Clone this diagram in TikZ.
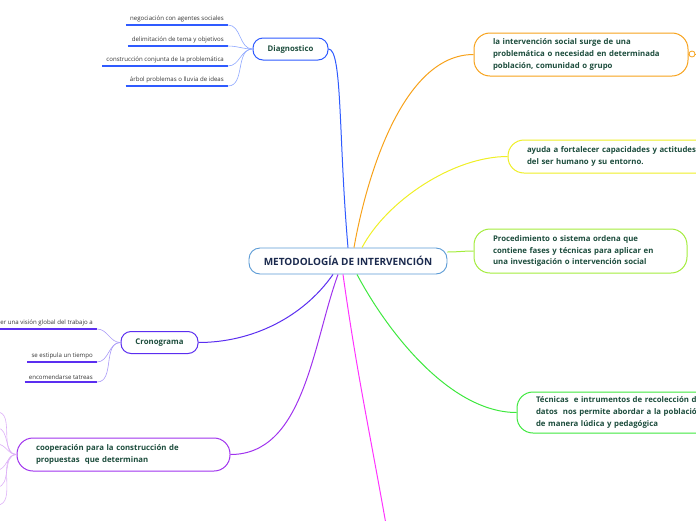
\documentclass[tikz,border=0pt]{standalone}
\usepackage{fontspec}
\setmainfont{Open Sans}

\definecolor{txtgreen}{HTML}{1D4D3D}
\definecolor{txtnavy}{HTML}{1B2A4E}
\definecolor{leafgray}{HTML}{333333}
\definecolor{cblue}{HTML}{2F5BFF}
\definecolor{cbluelt}{HTML}{8FA8FF}
\definecolor{cframe}{HTML}{5B9BD5}
\definecolor{corange}{HTML}{F7A21B}
\definecolor{cyellow}{HTML}{EFEF26}
\definecolor{clime}{HTML}{A3EC3C}
\definecolor{cgreen}{HTML}{3EE83E}
\definecolor{cmagenta}{HTML}{FF33FF}
\definecolor{cpurple}{HTML}{A033EE}
\definecolor{cpurplelt}{HTML}{DDB0F7}
\definecolor{cviolet}{HTML}{5B2EF0}
\definecolor{cvioletlt}{HTML}{A99AF7}

\tikzstyle{central} = [draw = cframe, fill = white, line width = 0.9pt, rounded corners = 11pt, minimum width = 198pt, minimum height = 26pt, text = txtnavy, font = \bfseries\fontsize{10}{12}\selectfont]
\tikzstyle{topic} = [fill = white, line width = 1pt, rounded corners = 10pt, minimum height = 22pt, text = txtgreen, font = \bfseries\fontsize{7.8}{10}\selectfont]
\tikzstyle{idea} = [fill = white, line width = 1pt, rounded corners = 16pt, inner xsep = 19pt, align = left, text = txtgreen, font = \bfseries\fontsize{7.8}{11.8}\selectfont]
\tikzstyle{leaf} = [anchor = south east, inner xsep = 4pt, inner ysep = 2.5pt, text = leafgray, font = \fontsize{6.1}{7}\selectfont]
\tikzstyle{link} = [line width = 1pt]
\tikzstyle{under} = [line width = 2pt]
\tikzstyle{twig} = [line width = 0.6pt]

\begin{document}
\begin{tikzpicture}[x = 1pt, y = -1pt]
		\useasboundingbox (0, 0) rectangle (696, 520);
		\clip (0, 0) rectangle (696, 520);

		\node [central] at (348, 261) (ctr) {METODOLOGÍA DE INTERVENCIÓN};

		% left side
		\node [topic, draw = cblue, minimum width = 75pt] at (290.5, 49) (diag) {Diagnostico};
		\node [topic, draw = cviolet, minimum width = 77pt] at (159.5, 342.5) (crono) {Cronograma};
		\node [idea, draw = cpurple, text width = 175pt, minimum height = 33pt] at (123.5, 454.5) (coop) {cooperación para la construcción de\\propuestas\ \ que determinan};

		% right side
		\node [idea, draw = corange, text width = 176pt, minimum height = 43pt] at (581, 54.5) (surge) {la intervención social surge de una\\problemática o necesidad en determinada\\población, comunidad o grupo};
		\node [idea, draw = cyellow, text width = 190pt, minimum height = 33pt] at (622, 156.5) (ayuda) {ayuda a fortalecer capacidades y actitudes\\del ser humano y su entorno.};
		\node [idea, draw = clime, text width = 175pt, minimum height = 44pt] at (580.5, 251) (proc) {Procedimiento o sistema ordena que\\contiene fases y técnicas para aplicar en\\una investigación o intervención social};
		\node [idea, draw = cgreen, text width = 190pt, minimum height = 41pt] at (631, 412.5) (tecn) {Técnicas\ \ e intrumentos de recolección de\\datos\ \ nos permite abordar a la población\\de manera lúdica y pedagógica};

		\node [circle, draw = corange, fill = white, line width = 0.8pt, inner sep = 0pt, minimum size = 6pt] at (692, 54) (knob) {};
		\coordinate (surgeout) at (702, 54);
		\coordinate (magout) at (387, 530);

		% main branches
		\draw [link, cblue] (ctr.north) to [out = 95, in = 0, out distance = 110pt, in distance = 14pt] (diag.east);
		\draw [link, corange] ([xshift = 6pt]ctr.north) to [out = 80, in = 180, looseness = 0.8] (surge.west);
		\draw [link, cyellow] ([xshift = 14pt]ctr.north) to [out = 62, in = 180, looseness = 0.8] (ayuda.west);
		\draw [link, clime] ([yshift = 9pt]ctr.east) to [out = 0, in = 180] (proc.west);
		\draw [link, cgreen] ([xshift = 9pt]ctr.south) to [out = -62, in = 180, looseness = 0.8] (tecn.west);
		\draw [link, cmagenta] ([xshift = -5pt]ctr.south) to [out = -82, in = 100] (magout);
		\draw [link, cpurple] ([xshift = -10pt]ctr.south) to [out = -110, in = 0, looseness = 0.9] (coop.east);
		\draw [link, cviolet] ([xshift = -15pt]ctr.south) to [out = -125, in = 0, looseness = 0.9] (crono.east);
		\draw [link, corange] (surge.east) -- (knob.west);
		\draw [link, corange] (knob.east) -- (surgeout);

		% Diagnostico leaves
		\node [leaf] at (228, 25) (dneg) {negociación con agentes sociales};
		\node [leaf] at (228, 46) (ddel) {delimitación de tema y objetivos};
		\node [leaf] at (228, 66) (dcon) {construcción conjunta de la problemática};
		\node [leaf] at (228, 86) (darb) {árbol problemas o lluvia de ideas};
		\foreach \nd in {dneg,ddel,dcon,darb} {
			\draw [under, cblue] (\nd.south west) -- (\nd.south east);
			\draw [twig, cbluelt] (\nd.south east) to [out = 0, in = 180] (diag.west);
		}

		% Cronograma leaves
		\node [leaf] at (97, 329) (cvis) {er una visión global del trabajo a};
		\node [leaf] at (97, 362) (ctie) {se estipula un tiempo};
		\node [leaf] at (97, 382) (ctar) {encomendarse tatreas};
		\foreach \nd in {cvis,ctie,ctar} {
			\draw [under, cviolet] (\nd.south west) -- (\nd.south east);
			\draw [twig, cvioletlt] (\nd.south east) to [out = 0, in = 180] (crono.west);
		}

		% cooperación leaves (outside the picture)
		\foreach \y [count = \i] in {412, 428, 444, 470, 487, 505} {
			\coordinate (cp\i) at (-3, \y);
			\draw [twig, cpurplelt] (cp\i) to [out = 0, in = 180] (coop.west);
		}
	\end{tikzpicture}
\end{document}
